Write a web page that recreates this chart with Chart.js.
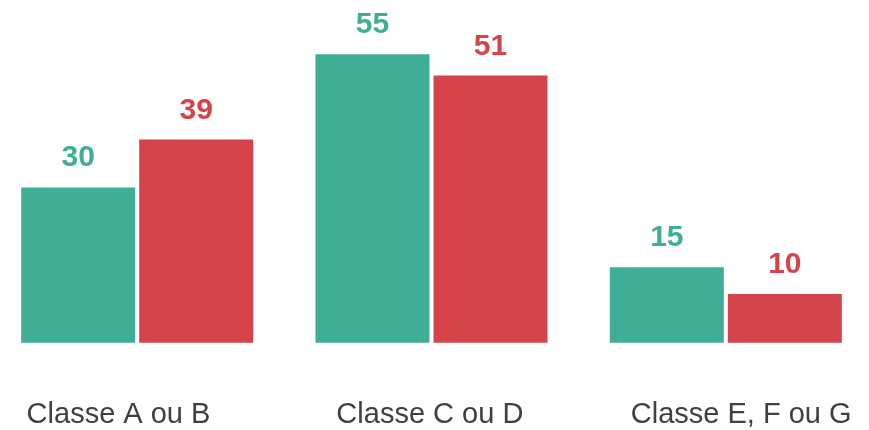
<!DOCTYPE html>
<html>
<head>
<meta charset="utf-8">
<script src="https://cdn.jsdelivr.net/npm/chart.js@4/dist/chart.umd.min.js"></script>
<style>
    html, body { margin: 0; padding: 0; background: #fff; overflow: hidden; }
    #wrap { position: absolute; left: -10px; top: 0; width: 883px; height: 430px; }
</style>
</head>
<body>
<div id="wrap"><canvas id="grafico"></canvas></div>
<script>
const categorias = ["Classe A ou B", "Classe C ou D", "Classe E, F ou G"];
const serieVerde = [30, 55, 15];
const serieVermelha = [39, 51, 10];

const corVerde = "#3FAE96";
const corVermelha = "#D6444B";

// escreve o valor acima de cada barra
const rotulosValores = {
    id: "rotulosValores",
    afterDatasetsDraw(chart) {
        const ctx = chart.ctx;
        ctx.save();
        ctx.font = "bold 30px 'Liberation Sans', Arial, sans-serif";
        ctx.textAlign = "center";
        ctx.textBaseline = "alphabetic";
        chart.data.datasets.forEach((ds, i) => {
            chart.getDatasetMeta(i).data.forEach((bar, j) => {
                ctx.fillStyle = ds.backgroundColor;
                ctx.fillText(String(ds.data[j]), bar.x, bar.y - 21);
            });
        });
        ctx.restore();
    }
};

const ctx = document.getElementById("grafico").getContext("2d");

new Chart(ctx, {
    type: "bar",
    data: {
        labels: categorias,
        datasets: [
            { label: "A", data: serieVerde, backgroundColor: corVerde },
            { label: "B", data: serieVermelha, backgroundColor: corVermelha },
        ],
    },
    options: {
        responsive: true,
        maintainAspectRatio: false,
        animation: false,
        layout: { padding: 0 },
        categoryPercentage: 0.802,
        barPercentage: 0.966,
        plugins: {
            legend: { display: false },
            tooltip: { enabled: false },
        },
        scales: {
            x: { display: false },
            // eixo só para os nomes das classes
            x2: {
                type: "linear",
                position: "bottom",
                offset: false,
                min: -0.4127,
                max: 2.4233,
                grid: { display: false, drawTicks: false, offset: false },
                border: { display: false },
                afterBuildTicks: s => { s.ticks = categorias.map((_, i) => ({ value: i })); },
                afterFit: s => {
                    s.height = 87.3;
                    s.paddingLeft = 0;
                    s.paddingRight = 0;
                },
                ticks: {
                    autoSkip: false,
                    maxRotation: 0,
                    padding: 55,
                    color: "#404040",
                    font: { family: "'Liberation Sans', Arial, sans-serif", size: 29 },
                    callback: v => categorias[v],
                },
            },
            y: {
                display: false,
                min: 0.86,
                max: 65.19,
            },
        },
    },
    plugins: [rotulosValores],
});
</script>
</body>
</html>
